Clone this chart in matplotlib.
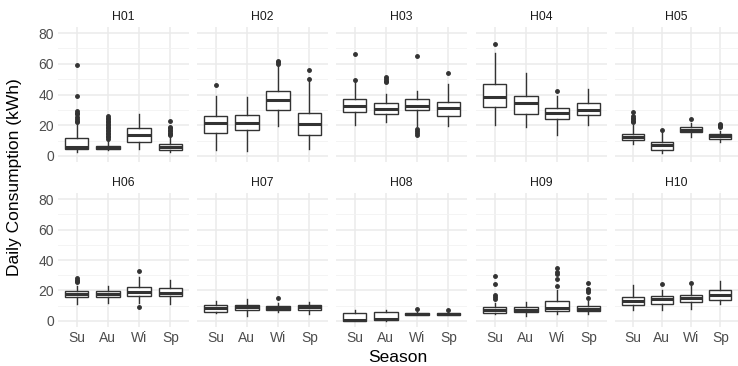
import matplotlib
matplotlib.use("Agg")
from matplotlib import pyplot as plt
from matplotlib.ticker import MultipleLocator

plt.rcParams["font.family"] = ["Liberation Sans", "DejaVu Sans"]

houses = ["H01", "H02", "H03", "H04", "H05", "H06", "H07", "H08", "H09", "H10"]
seasons = ["Su", "Au", "Wi", "Sp"]

# box stats per house, one value per season (Su, Au, Wi, Sp)
q1 = [[4.6, 4.3, 9.3, 3.9], [15.0, 16.7, 30.2, 13.7], [28.5, 27.2, 29.6, 26.3],
      [32.0, 27.6, 23.9, 26.5], [10.2, 3.7, 15.4, 11.3], [15.6, 15.4, 16.4, 16.4],
      [6.1, 7.1, 6.9, 7.4], [0.2, 0.6, 4.1, 4.0], [5.4, 5.8, 6.3, 6.3],
      [10.4, 11.2, 12.3, 13.8]]
med = [[6.1, 5.2, 13.9, 5.6], [21.7, 21.3, 36.5, 20.9], [32.2, 30.4, 32.6, 31.1],
       [38.5, 34.6, 27.8, 29.6], [12.4, 7.2, 17.0, 12.8], [17.5, 17.9, 19.2, 18.2],
       [8.6, 9.3, 8.4, 9.1], [0.4, 1.0, 4.6, 4.6], [7.1, 7.4, 8.6, 8.0],
       [12.8, 14.5, 15.1, 16.9]]
q3 = [[11.5, 6.7, 18.3, 7.6], [26.3, 26.7, 42.4, 27.8], [37.2, 34.3, 37.2, 35.4],
      [46.7, 38.9, 30.9, 34.6], [14.3, 8.9, 18.7, 14.1], [19.5, 19.5, 22.1, 21.4],
      [10.6, 10.6, 9.7, 10.2], [5.4, 5.8, 5.4, 5.3], [9.1, 9.1, 13.4, 9.9],
      [15.6, 16.4, 17.3, 20.3]]
wlo = [[2.2, 3.5, 4.3, 2.2], [3.5, 3.3, 19.6, 4.3], [20.2, 22.4, 19.5, 19.6],
       [20.2, 19.1, 13.9, 19.8], [7.6, 1.8, 12.6, 9.3], [11.2, 11.9, 11.9, 10.8],
       [5.2, 3.2, 5.8, 4.5], [0.0, 0.2, 3.7, 3.6], [4.3, 3.2, 4.3, 4.3],
       [6.9, 6.9, 8.0, 10.8]]
whi = [[21.5, 10.2, 27.2, 12.6], [38.7, 38.5, 58.5, 48.5], [48.9, 40.5, 42.4, 47.0],
       [67.0, 54.3, 38.7, 43.5], [20.2, 15.5, 21.3, 16.5], [23.1, 23.1, 28.8, 27.0],
       [13.2, 14.7, 11.9, 12.3], [7.0, 7.1, 5.8, 5.8], [11.9, 12.3, 20.5, 12.8],
       [23.6, 20.5, 22.7, 25.9]]
outliers = [
    [[59.5, 39, 29.5, 28, 27, 25.5, 24, 23, 22],
     [26, 25, 24, 23, 22, 21, 20, 19, 18, 17, 16, 15, 14, 13, 12, 11],
     [], [23, 19, 18, 17, 16, 15, 14, 13.5]],
    [[46.3], [], [60, 61, 62], [49.8, 55.9]],
    [[49.6, 66.7], [48, 49, 50, 51.5], [64.8, 17.5, 16, 14.8, 13.7], [53.9]],
    [[73.0], [], [42.6], []],
    [[28.5, 25.7, 24.8, 24, 23, 22], [17.0], [23.9], [21, 20, 19.3, 18.5]],
    [[27.9, 27, 26.2, 25.3], [], [8.9, 32.9], []],
    [[], [], [14.9], []],
    [[], [], [7.6], [7.4]],
    [[29.2, 24.2, 17.1, 16.0, 14.5], [], [23.1, 27.5, 30.7, 32.0, 34.6],
     [14.9, 19.0, 20.0, 21.2, 24.6]],
    [[], [24.4], [24.6], []],
]

W, H = 738, 366
fig = plt.figure(figsize=(W / 100, H / 100), dpi=100)

lefts = [58, 197, 336, 476, 615]
pw = 123 + 8
rows = [(27, 162), (193, 327)]
edge = "#333333"

for i, hname in enumerate(houses):
    r, c = divmod(i, 5)
    top, bot = rows[r]
    x0 = lefts[c]
    w = min(pw, W - x0)
    ax = fig.add_axes([x0 / W, 1 - bot / H, w / W, (bot - top) / H])
    stats = []
    for j, s in enumerate(seasons):
        stats.append(dict(med=med[i][j], q1=q1[i][j], q3=q3[i][j],
                          whislo=wlo[i][j], whishi=whi[i][j],
                          fliers=outliers[i][j], label=s))
    ax.bxp(stats, positions=[1, 2, 3, 4], widths=0.75, showcaps=False,
           patch_artist=True,
           boxprops=dict(facecolor="white", edgecolor=edge, linewidth=1.0),
           medianprops=dict(color=edge, linewidth=2.2, solid_capstyle="butt"),
           whiskerprops=dict(color=edge, linewidth=1.0),
           flierprops=dict(marker="o", markersize=2.5, markerfacecolor=edge,
                           markeredgecolor=edge, linestyle="none"))
    ax.set_xlim(0.4, 4.6)
    ax.set_ylim(-4, 84)
    ax.yaxis.set_major_locator(MultipleLocator(20))
    ax.yaxis.set_minor_locator(MultipleLocator(10))
    ax.grid(True, which="major", color="#EBEBEB", linewidth=1.1)
    ax.grid(True, which="minor", axis="y", color="#F2F2F2", linewidth=0.6)
    ax.set_axisbelow(True)
    for sp in ax.spines.values():
        sp.set_visible(False)
    ax.tick_params(which="both", length=0, colors="#4D4D4D", labelsize=10, pad=3)
    ax.set_xticks([1, 2, 3, 4])
    ax.set_xticklabels(seasons)
    if r == 0:
        ax.tick_params(axis="x", labelbottom=False)
    if c != 0:
        ax.tick_params(axis="y", labelleft=False)
    ax.set_title(hname, fontsize=8.8, color="#1A1A1A", pad=5)

fig.text(398 / W, 1 - 357 / H, "Season", ha="center", va="center", fontsize=12.5)
fig.text(15 / W, 1 - 177 / H, "Daily Consumption (kWh)", ha="center",
         va="center", rotation=90, fontsize=12.5)

fig.savefig("out.png", dpi=100, facecolor="white")
